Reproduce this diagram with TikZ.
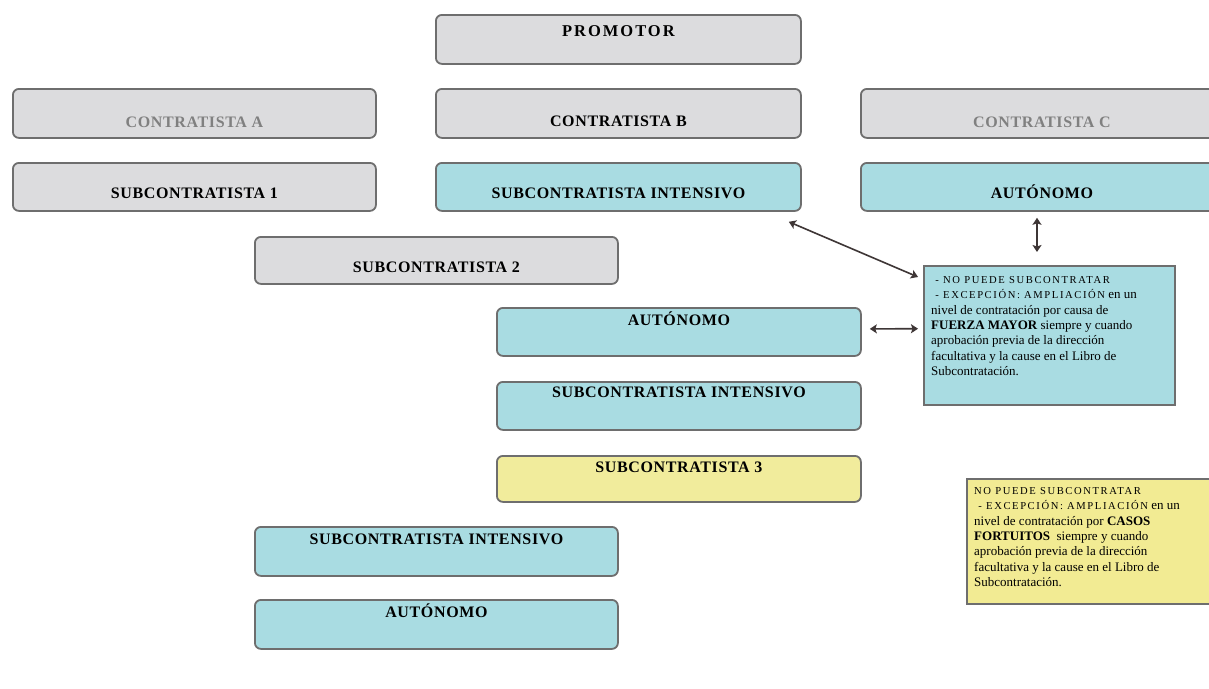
\documentclass[tikz,border=0pt]{standalone}
\usepackage{fontspec}
\setmainfont{Liberation Serif}
\newfontfamily\boxfont[LetterSpace=4]{Liberation Serif}
\newfontfamily\promfont[LetterSpace=12]{Liberation Serif}
\newfontfamily\capfont[LetterSpace=15]{Liberation Serif}
\usetikzlibrary{arrows.meta,calc}
\definecolor{gfill}{HTML}{DCDCDE}
\definecolor{cfill}{HTML}{A9DCE2}
\definecolor{yfill}{HTML}{F1EC9C}
\definecolor{nyfill}{HTML}{F2EB93}
\definecolor{bord}{HTML}{6E6E6E}
\definecolor{gtext}{HTML}{808080}
\definecolor{arr}{HTML}{3E3636}
\tikzset{
  box/.style={draw=bord, line width=1.8pt, rounded corners=6pt, anchor=north west,
    inner sep=0pt, align=center, font=\boxfont\bfseries\fontsize{16}{16}\selectfont},
  dims/.style n args={3}{minimum width=#1, text height=#2, text depth=#3},
  gbox/.style={box, fill=gfill},
  cbox/.style={box, fill=cfill},
  ybox/.style={box, fill=yfill},
  note/.style={draw=bord, line width=2.4pt, anchor=north west, inner sep=0pt},
  notetext/.style={anchor=north west, inner sep=0pt, align=left,
    font=\fontsize{13}{15.4}\selectfont},
  link/.style={draw=arr, line width=1.6pt, {Stealth[length=7pt,width=9pt,inset=1.5pt]}-{Stealth[length=7pt,width=9pt,inset=1.5pt]}}
}
\begin{document}
\begin{tikzpicture}[x=1pt,y=-1pt]
\useasboundingbox[fill=white] (0,0) rectangle (1209,688);
% row 0
\node[gbox, dims={365pt}{22pt}{27pt}, font=\promfont\bfseries\fontsize{16.5}{16.5}\selectfont] (prom) at (435,14) {PROMOTOR};
% row 1
\node[gbox, dims={363pt}{39pt}{10pt}, text=gtext] (ca) at (12,88) {CONTRATISTA A};
\node[gbox, dims={365pt}{38pt}{11pt}] (cb) at (435,88) {CONTRATISTA B};
\node[gbox, dims={362pt}{39pt}{10pt}, text=gtext] (cc) at (860,88) {CONTRATISTA C};
% row 2
\node[gbox, dims={363pt}{36pt}{12pt}] (s1) at (12,162) {SUBCONTRATISTA 1};
\node[cbox, dims={365pt}{36pt}{12pt}] (sit) at (435,162) {SUBCONTRATISTA INTENSIVO};
\node[cbox, dims={362pt}{36pt}{12pt}] (aut1) at (860,162) {AUTÓNOMO};
% row 3
\node[gbox, dims={363pt}{36pt}{11pt}] (s2) at (254,236) {SUBCONTRATISTA 2};
% column 2
\node[cbox, dims={364pt}{18pt}{30pt}] (aut2) at (496,307) {AUTÓNOMO};
\node[cbox, dims={364pt}{16pt}{32pt}] (si2) at (496,381) {SUBCONTRATISTA INTENSIVO};
\node[ybox, dims={364pt}{17pt}{29pt}] (s3) at (496,455) {SUBCONTRATISTA 3};
% column 3
\node[cbox, dims={363pt}{18pt}{31pt}] (si3) at (254,526) {SUBCONTRATISTA INTENSIVO};
\node[cbox, dims={363pt}{18pt}{31pt}] (aut3) at (254,599) {AUTÓNOMO};
% notes
\node[note, fill=cfill, minimum width=251pt, minimum height=139pt] (n1) at (923,265) {};
\node[notetext] (n1t) at (931,276) {{\capfont\fontsize{10.6}{10.6}\selectfont\ - NO PUEDE SUBCONTRATAR}\\
{\capfont\fontsize{10.6}{10.6}\selectfont\ - EXCEPCIÓN: AMPLIACIÓN} en un\\
nivel de contratación por causa de\\
\textbf{FUERZA MAYOR} siempre y cuando\\
aprobación previa de la dirección\\
facultativa y la cause en el Libro de\\
Subcontratación.};
\node[note, fill=nyfill, minimum width=246pt, minimum height=125pt] (n2) at (966,478) {};
\node[notetext] (n2t) at (974,487) {{\capfont\fontsize{10.6}{10.6}\selectfont NO PUEDE SUBCONTRATAR}\\
{\capfont\fontsize{10.6}{10.6}\selectfont\ - EXCEPCIÓN: AMPLIACIÓN} en un\\
nivel de contratación por \textbf{CASOS}\\
\textbf{FORTUITOS} \ siempre y cuando\\
aprobación previa de la dirección\\
facultativa y la cause en el Libro de\\
Subcontratación.};
% connectors
\draw[link] ($(sit.south east)+(-13,10)$) -- ($(n1.north west)+(-5,12)$);
\draw[link] ($(aut1.south west)+(177,6)$) -- ($(n1.north west)+(114,-13)$);
\draw[link] ($(aut2.east)+(8,-3)$) -- ($(n1.west)+(-5,-7)$);
\end{tikzpicture}
\end{document}
